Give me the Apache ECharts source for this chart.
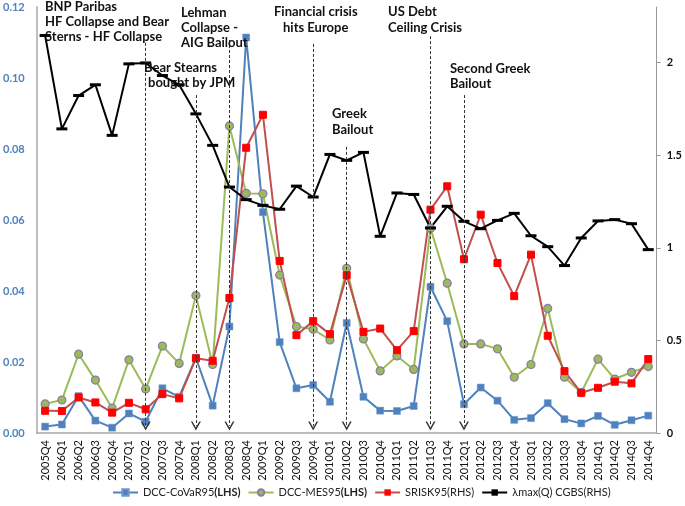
<!DOCTYPE html>
<html><head><meta charset="utf-8">
<script src="https://cdn.jsdelivr.net/npm/echarts@6/dist/echarts.min.js"></script>
<style>html,body{margin:0;padding:0;background:#fff}#c{width:685px;height:506px}</style>
</head><body><div id="c"></div>
<script>
const categories = ['2005Q4','2006Q1','2006Q2','2006Q3','2006Q4','2007Q1','2007Q2','2007Q3','2007Q4','2008Q1','2008Q2','2008Q3','2008Q4','2009Q1','2009Q2','2009Q3','2009Q4','2010Q1','2010Q2','2010Q3','2010Q4','2011Q1','2011Q2','2011Q3','2011Q4','2012Q1','2012Q2','2012Q3','2012Q4','2013Q1','2013Q2','2013Q3','2013Q4','2014Q1','2014Q2','2014Q3','2014Q4'];
const covar = [0.0018,0.0024,0.0104,0.0035,0.0015,0.0055,0.0032,0.0126,0.0102,0.0212,0.0077,0.0300,0.1114,0.0622,0.0256,0.0126,0.0135,0.0088,0.0310,0.0102,0.0063,0.0062,0.0076,0.0412,0.0315,0.0081,0.0128,0.0091,0.0037,0.0042,0.0084,0.0039,0.0027,0.0048,0.0023,0.0036,0.0049];
const mes = [0.0082,0.0093,0.0222,0.0149,0.0070,0.0206,0.0124,0.0245,0.0196,0.0387,0.0193,0.0865,0.0675,0.0674,0.0445,0.0300,0.0292,0.0262,0.0464,0.0265,0.0175,0.0217,0.0179,0.0577,0.0422,0.0251,0.0251,0.0237,0.0157,0.0193,0.0351,0.0157,0.0114,0.0208,0.0152,0.0171,0.0187];
const srisk = [0.120,0.119,0.192,0.165,0.110,0.163,0.128,0.210,0.187,0.403,0.390,0.729,1.540,1.718,0.929,0.528,0.604,0.534,0.852,0.546,0.564,0.447,0.550,1.206,1.332,0.938,1.179,0.918,0.739,0.963,0.525,0.334,0.217,0.244,0.277,0.268,0.399];
const lambdaMax = [2.146,1.642,1.822,1.880,1.607,1.993,1.998,1.930,1.880,1.723,1.553,1.328,1.260,1.229,1.208,1.333,1.274,1.504,1.472,1.515,1.062,1.296,1.288,1.107,1.224,1.143,1.103,1.148,1.186,1.065,1.006,0.904,1.053,1.145,1.152,1.130,0.990];
const leftTicks = [0,0.02,0.04,0.06,0.08,0.10,0.12];
const rightTicks = [0,0.5,1,1.5,2];
const eventQuarters = ['2007Q2','2008Q1','2008Q3','2009Q4','2010Q2','2011Q3','2012Q1'];
const eventTops = [0.1099,0.0952,0.1107,0.1096,0.0806,0.1118,0.0952];
const seriesNames = ['DCC-CoVaR95','DCC-MES95','SRISK95','λmax(Q) CGBS'];
const seriesSides = ['(LHS)','(LHS)','(RHS)','(RHS)'];

const chart = echarts.init(document.getElementById('c'));
const FONT = 'Lato';
const chevron = 'path://M5,0 L10,8 L8.4,8 L5,2.6 L1.6,8 L0,8 Z';

const annotations = [
  {x:45,y:7,t:'BNP Paribas'},{x:45,y:22,t:'HF Collapse and Bear'},{x:45,y:37,t:'Sterns - HF Collapse'},
  {x:144,y:68,t:'Bear Stearns'},{x:148,y:83,t:'bought by JPM'},
  {x:181,y:13,t:'Lehman'},{x:181,y:28,t:'Collapse -'},{x:181,y:43,t:'AIG Bailout'},
  {x:274,y:12,t:'Financial crisis'},{x:283,y:28,t:'hits Europe'},
  {x:332,y:114,t:'Greek'},{x:332,y:130,t:'Bailout'},
  {x:388,y:12,t:'US Debt'},{x:388,y:28,t:'Ceiling Crisis'},
  {x:450,y:69,t:'Second Greek'},{x:450,y:84,t:'Bailout'}
];

const option = {
  animation:false,
  backgroundColor:'#fff',
  textStyle:{fontFamily:FONT},
  grid:{left:34,right:28,top:7,bottom:73,containLabel:false},
  legend:{
    bottom:3,left:107,itemWidth:25,itemHeight:8,itemGap:7,
    data:seriesNames,
    formatter:function(n){const i=seriesNames.indexOf(n);return '{n|'+n+'}{'+(i<2?'b':'n')+'|'+seriesSides[i]+'}';},
    textStyle:{fontFamily:FONT,fontSize:11,color:'#222',rich:{n:{fontFamily:FONT,fontSize:11,color:'#222'},b:{fontFamily:FONT,fontSize:11,fontWeight:'bold',color:'#222'}}}
  },
  xAxis:{
    type:'category',data:categories,boundaryGap:true,
    axisLine:{lineStyle:{color:'#a6a6a6',width:1.5}},
    axisTick:{show:false},
    axisLabel:{rotate:90,interval:0,fontFamily:FONT,fontSize:11,color:'#111',margin:7}
  },
  yAxis:[
    {type:'value',min:leftTicks[0],max:leftTicks[leftTicks.length-1],interval:0.02,position:'left',
     splitLine:{show:false},axisTick:{show:false},
     axisLine:{show:true,lineStyle:{color:'#bfbfbf',width:2}},
     axisLabel:{formatter:v=>v.toFixed(2),color:'#4F81BD',fontWeight:'bold',fontFamily:FONT,fontSize:11,margin:12}},
    {type:'value',min:rightTicks[0],max:2.3,interval:0.5,position:'right',
     splitLine:{show:false},axisTick:{show:true,length:4,lineStyle:{color:'#999'}},
     axisLine:{show:true,lineStyle:{color:'#999',width:1}},
     axisLabel:{showMaxLabel:false,formatter:v=>String(v),color:'#111',fontWeight:'bold',fontFamily:FONT,fontSize:11,margin:10}}
  ],
  series:[
    {name:seriesNames[0],type:'line',yAxisIndex:0,data:covar,symbol:'rect',symbolSize:7,
     lineStyle:{color:'#4F81BD',width:2},itemStyle:{color:'#4F81BD',borderColor:'#6d97cf',borderWidth:0.5},
     markLine:{silent:true,symbol:['none',chevron],symbolSize:[10,9],
       lineStyle:{color:'#333',width:1,type:[3,2]},label:{show:false},
       data:eventQuarters.map((q,i)=>[{coord:[q,eventTops[i]]},{coord:[q,0.002]}])}},
    {name:seriesNames[1],type:'line',yAxisIndex:0,data:mes,symbol:'circle',symbolSize:8,
     lineStyle:{color:'#9BBB59',width:2},itemStyle:{color:'#9BBB59',borderColor:'#8B7BA8',borderWidth:1.2}},
    {name:seriesNames[2],type:'line',yAxisIndex:1,data:srisk,symbol:'rect',symbolSize:7,
     lineStyle:{color:'#C0504D',width:2},itemStyle:{color:'#FF0000',borderColor:'#FF0000'}},
    {name:seriesNames[3],type:'line',yAxisIndex:1,data:lambdaMax,symbol:'rect',symbolSize:[11,3],
     lineStyle:{color:'#000',width:2},itemStyle:{color:'#000'}}
  ],
  graphic: annotations.map(a=>({type:'text',x:a.x,y:a.y,z:100,
     style:{text:a.t,fontFamily:FONT,fontSize:13,fontWeight:'bold',fill:'#111',verticalAlign:'middle',align:'left'}}))
};
chart.setOption(option);
</script></body></html>
